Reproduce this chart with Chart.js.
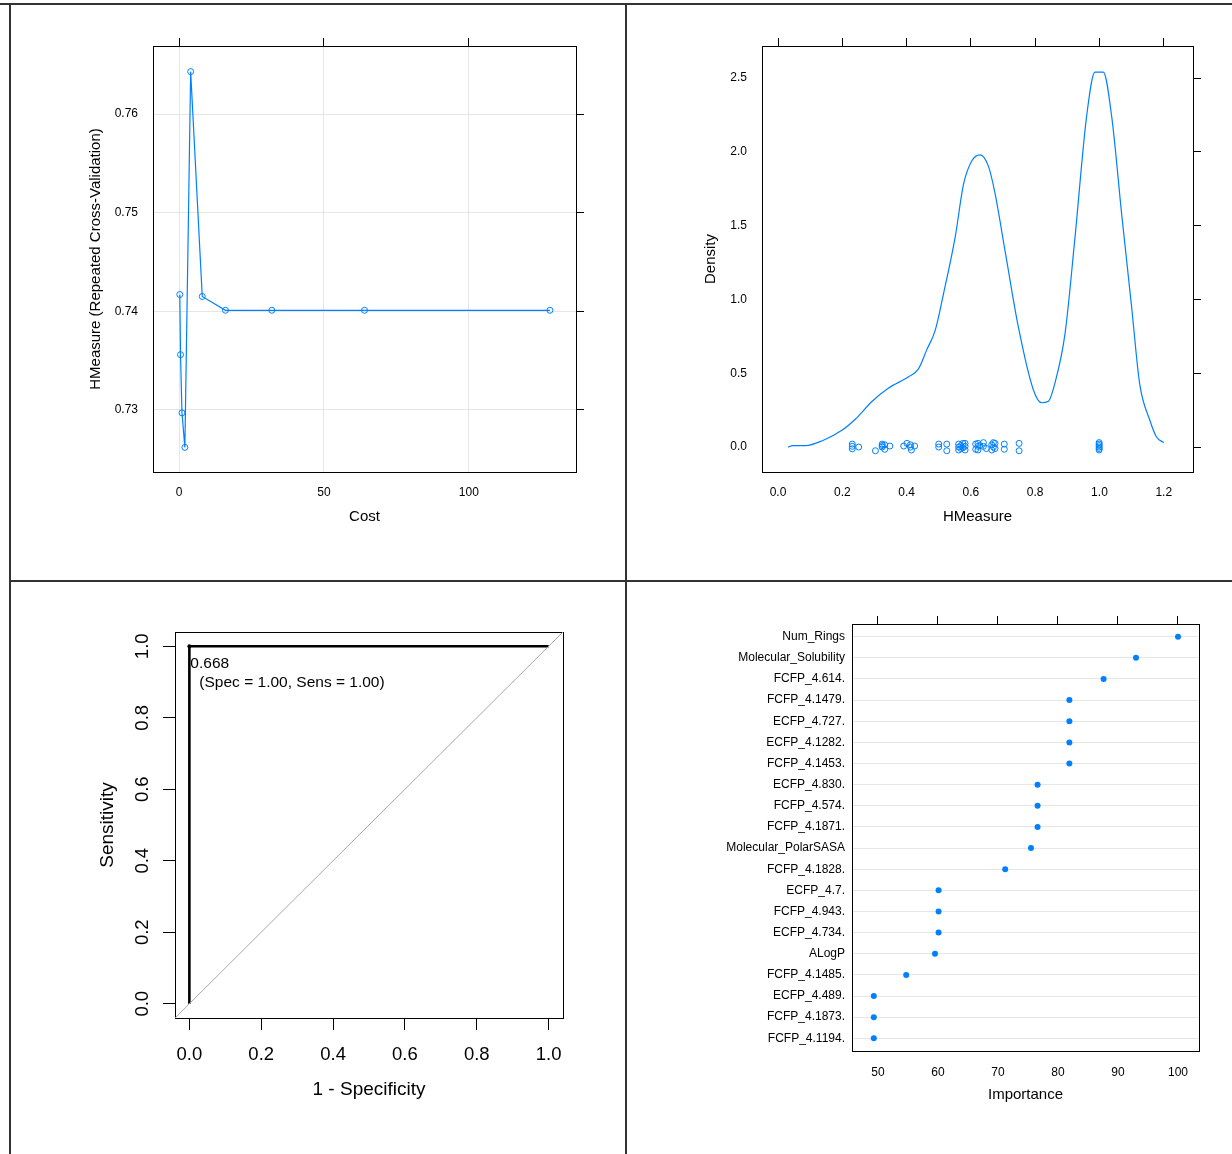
<!DOCTYPE html>
<html><head><meta charset="utf-8">
<script src="https://cdn.jsdelivr.net/npm/chart.js@4"></script>
<style>
body{margin:0;background:#fff;width:1232px;height:1154px;position:relative;overflow:hidden;font-family:'Liberation Sans',Arial,sans-serif}
canvas{position:absolute}
.ln{position:absolute;background:#333}
</style></head><body>
<div class="ln" style="left:0;top:3px;width:1232px;height:2px"></div>
<div class="ln" style="left:9px;top:3px;width:2px;height:1151px"></div>
<div class="ln" style="left:625px;top:3px;width:2px;height:1151px"></div>
<div class="ln" style="left:9px;top:580px;width:1223px;height:2px"></div>
<canvas id="c1" width="520" height="530" style="left:80px;top:20px"></canvas>
<canvas id="c2" width="530" height="530" style="left:690px;top:20px"></canvas>
<canvas id="c3" width="500" height="520" style="left:90px;top:600px"></canvas>
<canvas id="c4" width="520" height="520" style="left:700px;top:600px"></canvas>
<script>
// ---------- DATA ----------
// Panel 1: tuning profile
const costValues = [0.25, 0.5, 1, 2, 4, 8, 16, 32, 64, 128];
const hmeasureCV = [0.7417, 0.7356, 0.7297, 0.7262, 0.7643, 0.7415, 0.7401, 0.7401, 0.7401, 0.7401];
const costTicks = [0, 50, 100];
const hmTicks = [0.73, 0.74, 0.75, 0.76];

// Panel 2: density of HMeasure
const densityX = [0.031,0.045,0.086,0.138,0.2,0.241,0.293,0.344,0.406,0.437,0.463,0.489,0.515,0.551,0.577,0.603,0.629,0.655,0.675,0.707,0.748,0.794,0.820,0.841,0.861,0.893,0.923,0.960,0.986,1.012,1.038,1.069,1.100,1.125,1.157,1.177,1.2];
const densityY = [0.0,0.01,0.01,0.043,0.115,0.19,0.31,0.40,0.476,0.53,0.66,0.79,1.04,1.42,1.78,1.94,1.98,1.90,1.72,1.32,0.81,0.39,0.30,0.31,0.43,0.77,1.40,2.24,2.54,2.54,2.24,1.58,0.95,0.43,0.18,0.07,0.03];
const rugX = [0.231,0.231,0.231,0.251,0.303,0.324,0.324,0.324,0.332,0.332,0.348,0.391,0.401,0.412,0.412,0.415,0.425,0.5,0.5,0.525,0.525,0.562,0.562,0.562,0.569,0.569,0.575,0.575,0.582,0.582,0.582,0.615,0.615,0.622,0.622,0.622,0.628,0.639,0.639,0.648,0.665,0.665,0.67,0.67,0.675,0.675,0.704,0.704,0.75,0.75,0.999,0.999,0.999,0.999,0.999,0.999];
const rugY = [0.02,0.005,-0.012,0,-0.025,0.02,0.01,0,-0.015,0.015,0.007,0.007,0.025,0,0.015,-0.02,0.007,0.02,0,0.02,-0.025,0.02,0,-0.02,0.01,-0.01,0.025,-0.005,0.025,0.005,-0.02,0.02,-0.015,0.005,0.025,-0.02,0.01,0.03,0.005,-0.01,0.015,-0.02,0.03,0,0.025,-0.01,0.02,-0.015,0.025,-0.025,0.03,0.02,0.01,0,-0.01,-0.02];
const densXTicks = [0, 0.2, 0.4, 0.6, 0.8, 1.0, 1.2];
const densYTicks = [0, 0.5, 1.0, 1.5, 2.0, 2.5];

// Panel 3: ROC
const rocFPR = [0, 0, 1];
const rocSens = [0, 1, 1];
const diagX = [-0.04, 1.04];
const diagY = [-0.04, 1.04];
const rocTicks = [0, 0.2, 0.4, 0.6, 0.8, 1.0];
const rocThreshold = [0, 1];
const rocLabelLines = ['0.668', '(Spec = 1.00, Sens = 1.00)'];

// Panel 4: variable importance
const features = ['Num_Rings','Molecular_Solubility','FCFP_4.614.','FCFP_4.1479.','ECFP_4.727.','ECFP_4.1282.','FCFP_4.1453.','ECFP_4.830.','FCFP_4.574.','FCFP_4.1871.','Molecular_PolarSASA','FCFP_4.1828.','ECFP_4.7.','FCFP_4.943.','ECFP_4.734.','ALogP','FCFP_4.1485.','ECFP_4.489.','FCFP_4.1873.','FCFP_4.1194.'];
const importance = [100, 93.0, 87.6, 81.9, 81.9, 81.9, 81.9, 76.6, 76.6, 76.6, 75.5, 71.2, 60.1, 60.1, 60.1, 59.5, 54.7, 49.3, 49.3, 49.3];
const impTicks = [50, 60, 70, 80, 90, 100];

// ---------- HELPERS ----------
const FONT = "'Liberation Sans', Arial, sans-serif";
const BLUE = '#0080ff';
const GRIDC = '#e6e6e6';
const pts = (xs, ys) => xs.map((x, i) => ({x, y: ys[i]}));
const fixedSize = px => s => { if (s.isHorizontal()) s.height = px; else s.width = px; s.paddingLeft = s.paddingRight = s.paddingTop = s.paddingBottom = 0; };
const setTicks = arr => s => { s.ticks = arr.map(v => ({value: v})); };
const f = size => ({family: FONT, size});
const baseOpts = {responsive:false, animation:false, devicePixelRatio:1, layout:{padding:0},
  plugins:{legend:{display:false}, tooltip:{enabled:false}}};

function tickOnlyAxis(pos, min, max, ticks, size, tickLen) {
  return {type:'linear', position:pos, min, max, afterBuildTicks:setTicks(ticks), afterFit:fixedSize(size),
    grid:{display: tickLen > 0, drawTicks: tickLen > 0, drawOnChartArea:false, tickLength:tickLen, tickColor:'#000', tickWidth:1},
    border:{display:true, color:'#000', width:1}, ticks:{display:false}};
}

// ---------- PANEL 1 ----------
new Chart(document.getElementById('c1'), {
  type:'scatter',
  data:{datasets:[{data:pts(costValues, hmeasureCV), showLine:true, borderColor:BLUE, borderWidth:1.2,
    pointRadius:3, pointBorderWidth:1, pointBorderColor:BLUE, pointBackgroundColor:'rgba(0,0,0,0)', xAxisID:'x', yAxisID:'y'}]},
  options:{...baseOpts, scales:{
    x:{type:'linear', position:'bottom', min:-9, max:137, afterBuildTicks:setTicks(costTicks), afterFit:fixedSize(78),
      grid:{color:GRIDC, drawTicks:false}, border:{color:'#000'},
      ticks:{padding:13, color:'#000', font:f(12), autoSkip:false, maxRotation:0, callback:v => String(v)},
      title:{display:true, text:'Cost', color:'#000', font:f(15), padding:{top:0, bottom:24}}},
    x2:tickOnlyAxis('top', -9, 137, costTicks, 26, 8),
    y:{type:'linear', position:'left', min:0.7237, max:0.7669, afterBuildTicks:setTicks(hmTicks), afterFit:fixedSize(73),
      grid:{color:GRIDC, drawTicks:false}, border:{color:'#000'},
      ticks:{padding:15, color:'#000', font:f(12), autoSkip:false, callback:v => v.toFixed(2)},
      title:{display:true, text:'HMeasure (Repeated Cross-Validation)', color:'#000', font:f(15), padding:{top:7, bottom:0}}},
    y2:tickOnlyAxis('right', 0.7237, 0.7669, hmTicks, 24, 8)
  }}
});

// ---------- PANEL 2 ----------
new Chart(document.getElementById('c2'), {
  type:'scatter',
  data:{datasets:[
    {data:pts(densityX, densityY), showLine:true, borderColor:BLUE, borderWidth:1.2, pointRadius:0,
      cubicInterpolationMode:'monotone', xAxisID:'x', yAxisID:'y'},
    {data:pts(rugX, rugY), showLine:false, pointRadius:3, pointBorderWidth:1, pointBorderColor:BLUE,
      pointBackgroundColor:'rgba(0,0,0,0)', xAxisID:'x', yAxisID:'y'}
  ]},
  options:{...baseOpts, scales:{
    x:{type:'linear', position:'bottom', min:-0.0498, max:1.291, afterBuildTicks:setTicks(densXTicks), afterFit:fixedSize(78),
      grid:{display:false, drawTicks:false}, border:{color:'#000'},
      ticks:{padding:13, color:'#000', font:f(12), autoSkip:false, maxRotation:0, callback:v => v.toFixed(1)},
      title:{display:true, text:'HMeasure', color:'#000', font:f(15), padding:{top:0, bottom:24}}},
    x2:tickOnlyAxis('top', -0.0498, 1.291, densXTicks, 26, 8),
    y:{type:'linear', position:'left', min:-0.169, max:2.717, afterBuildTicks:setTicks(densYTicks), afterFit:fixedSize(72),
      grid:{display:false, drawTicks:false}, border:{color:'#000'},
      ticks:{padding:15, color:'#000', font:f(12), autoSkip:false, callback:v => v.toFixed(1)},
      title:{display:true, text:'Density', color:'#000', font:f(15), padding:{top:12, bottom:0}}},
    y2:tickOnlyAxis('right', -0.169, 2.717, densYTicks, 27, 8)
  }}
});

// ---------- PANEL 3 ----------
const rocPlugin = {
  id:'rocText',
  afterDraw(chart) {
    const {ctx, scales:{x, y}, chartArea} = chart;
    const px = x.getPixelForValue(rocThreshold[0]), py = y.getPixelForValue(rocThreshold[1]);
    ctx.save();
    ctx.fillStyle = '#000';
    ctx.textBaseline = 'middle';
    ctx.textAlign = 'left';
    ctx.font = '15.5px ' + FONT;
    ctx.fillText(rocLabelLines[0], px + 1, py + 17);
    ctx.fillText(rocLabelLines[1], px + 10, py + 36);
    ctx.font = '18.5px ' + FONT;
    ctx.textAlign = 'center';
    y.ticks.forEach(t => {
      const yy = y.getPixelForValue(t.value);
      ctx.save();
      ctx.translate(chartArea.left - 32, yy);
      ctx.rotate(-Math.PI / 2);
      ctx.fillText(t.value.toFixed(1), 0, 0);
      ctx.restore();
    });
    ctx.restore();
  }
};
new Chart(document.getElementById('c3'), {
  type:'scatter',
  data:{datasets:[
    {data:pts(diagX, diagY), showLine:true, borderColor:'#a8a8a8', borderWidth:1, pointRadius:0, xAxisID:'x', yAxisID:'y'},
    {data:pts(rocFPR, rocSens), showLine:true, borderColor:'#000', borderWidth:2.6, pointRadius:0, xAxisID:'x', yAxisID:'y'},
    {data:[{x:rocThreshold[0], y:rocThreshold[1]}], pointRadius:2, pointBackgroundColor:'#000', pointBorderWidth:0, xAxisID:'x', yAxisID:'y'}
  ]},
  options:{...baseOpts, scales:{
    x:{type:'linear', position:'bottom', min:-0.04, max:1.04, afterBuildTicks:setTicks(rocTicks), afterFit:fixedSize(102),
      grid:{drawOnChartArea:false, tickLength:12, tickColor:'#000'}, border:{color:'#000'},
      ticks:{padding:14, color:'#000', font:f(18.5), autoSkip:false, maxRotation:0, callback:v => v.toFixed(1)},
      title:{display:true, text:'1 - Specificity', color:'#000', font:f(19), padding:{top:0, bottom:19}}},
    x2:tickOnlyAxis('top', -0.04, 1.04, rocTicks, 32, 0),
    y:{type:'linear', position:'left', min:-0.04, max:1.04, afterBuildTicks:setTicks(rocTicks), afterFit:fixedSize(85),
      grid:{drawOnChartArea:false, tickLength:12, tickColor:'#000'}, border:{color:'#000'},
      ticks:{display:false},
      title:{display:true, text:'Sensitivity', color:'#000', font:f(19), padding:{top:6, bottom:0}}},
    y2:tickOnlyAxis('right', -0.04, 1.04, rocTicks, 27, 0)
  }},
  plugins:[rocPlugin]
});

// ---------- PANEL 4 ----------
const rowIdx = features.map((_, i) => i);
new Chart(document.getElementById('c4'), {
  type:'scatter',
  data:{datasets:[{data:pts(importance, rowIdx), pointRadius:3, pointBackgroundColor:BLUE, pointBorderWidth:0, xAxisID:'x', yAxisID:'y'}]},
  options:{...baseOpts, scales:{
    x:{type:'linear', position:'bottom', min:45.67, max:103.5, afterBuildTicks:setTicks(impTicks), afterFit:fixedSize(69),
      grid:{display:false, drawTicks:false}, border:{color:'#000'},
      ticks:{padding:14, color:'#000', font:f(12), autoSkip:false, maxRotation:0, callback:v => String(v)},
      title:{display:true, text:'Importance', color:'#000', font:f(15), padding:{top:0, bottom:16}}},
    x2:tickOnlyAxis('top', 45.67, 103.5, impTicks, 24, 8),
    y:{type:'linear', position:'left', reverse:true, min:-0.6, max:19.6, afterBuildTicks:setTicks(rowIdx), afterFit:fixedSize(152),
      grid:{color:GRIDC, drawTicks:false}, border:{color:'#000'},
      ticks:{padding:7, color:'#000', font:f(12), autoSkip:false, callback:v => features[v]}},
    y2:tickOnlyAxis('right', -0.6, 19.6, rowIdx, 21, 0)
  }}
});
</script>
</body></html>
